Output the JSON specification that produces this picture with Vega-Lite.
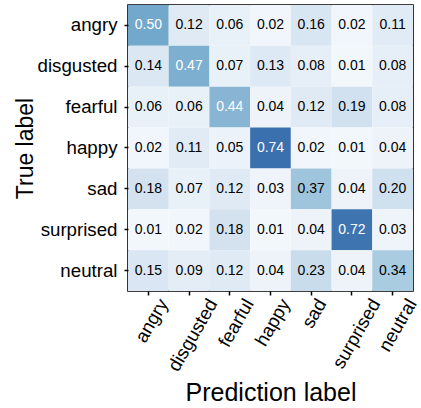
{
  "$schema": "https://vega.github.io/schema/vega-lite/v6.json",
  "autosize": "none",
  "padding": {"left": 128, "top": 5, "right": 8, "bottom": 117},
  "width": 285,
  "height": 286,
  "background": "white",
  "config": {
    "font": "Liberation Sans",
    "view": {"stroke": "black", "strokeWidth": 1.6},
    "axis": {
      "domain": false,
      "grid": false,
      "ticks": true,
      "tickColor": "black",
      "tickSize": 4,
      "tickWidth": 1.5,
      "labelColor": "black",
      "titleColor": "black",
      "labelFont": "Liberation Sans",
      "titleFont": "Liberation Sans",
      "labelFontSize": 18.7,
      "titleFontWeight": "normal"
    }
  },
  "data": {
    "values": [
      {"true": "angry", "pred": "angry", "v": 0.50},
      {"true": "angry", "pred": "disgusted", "v": 0.12},
      {"true": "angry", "pred": "fearful", "v": 0.06},
      {"true": "angry", "pred": "happy", "v": 0.02},
      {"true": "angry", "pred": "sad", "v": 0.16},
      {"true": "angry", "pred": "surprised", "v": 0.02},
      {"true": "angry", "pred": "neutral", "v": 0.11},
      {"true": "disgusted", "pred": "angry", "v": 0.14},
      {"true": "disgusted", "pred": "disgusted", "v": 0.47},
      {"true": "disgusted", "pred": "fearful", "v": 0.07},
      {"true": "disgusted", "pred": "happy", "v": 0.13},
      {"true": "disgusted", "pred": "sad", "v": 0.08},
      {"true": "disgusted", "pred": "surprised", "v": 0.01},
      {"true": "disgusted", "pred": "neutral", "v": 0.08},
      {"true": "fearful", "pred": "angry", "v": 0.06},
      {"true": "fearful", "pred": "disgusted", "v": 0.06},
      {"true": "fearful", "pred": "fearful", "v": 0.44},
      {"true": "fearful", "pred": "happy", "v": 0.04},
      {"true": "fearful", "pred": "sad", "v": 0.12},
      {"true": "fearful", "pred": "surprised", "v": 0.19},
      {"true": "fearful", "pred": "neutral", "v": 0.08},
      {"true": "happy", "pred": "angry", "v": 0.02},
      {"true": "happy", "pred": "disgusted", "v": 0.11},
      {"true": "happy", "pred": "fearful", "v": 0.05},
      {"true": "happy", "pred": "happy", "v": 0.74},
      {"true": "happy", "pred": "sad", "v": 0.02},
      {"true": "happy", "pred": "surprised", "v": 0.01},
      {"true": "happy", "pred": "neutral", "v": 0.04},
      {"true": "sad", "pred": "angry", "v": 0.18},
      {"true": "sad", "pred": "disgusted", "v": 0.07},
      {"true": "sad", "pred": "fearful", "v": 0.12},
      {"true": "sad", "pred": "happy", "v": 0.03},
      {"true": "sad", "pred": "sad", "v": 0.37},
      {"true": "sad", "pred": "surprised", "v": 0.04},
      {"true": "sad", "pred": "neutral", "v": 0.20},
      {"true": "surprised", "pred": "angry", "v": 0.01},
      {"true": "surprised", "pred": "disgusted", "v": 0.02},
      {"true": "surprised", "pred": "fearful", "v": 0.18},
      {"true": "surprised", "pred": "happy", "v": 0.01},
      {"true": "surprised", "pred": "sad", "v": 0.04},
      {"true": "surprised", "pred": "surprised", "v": 0.72},
      {"true": "surprised", "pred": "neutral", "v": 0.03},
      {"true": "neutral", "pred": "angry", "v": 0.15},
      {"true": "neutral", "pred": "disgusted", "v": 0.09},
      {"true": "neutral", "pred": "fearful", "v": 0.12},
      {"true": "neutral", "pred": "happy", "v": 0.04},
      {"true": "neutral", "pred": "sad", "v": 0.23},
      {"true": "neutral", "pred": "surprised", "v": 0.04},
      {"true": "neutral", "pred": "neutral", "v": 0.34}
    ]
  },
  "encoding": {
    "x": {
      "field": "pred",
      "type": "nominal",
      "sort": ["angry", "disgusted", "fearful", "happy", "sad", "surprised", "neutral"],
      "scale": {"paddingInner": 0, "paddingOuter": 0},
      "axis": {
        "title": "Prediction label",
        "titleFontSize": 25,
        "labelAngle": -60,
        "labelAlign": "right",
        "labelBaseline": "middle",
        "labelPadding": 5,
        "labelOffset": {"expr": "length(datum.value) * 2.2 + 4"},
        "titlePadding": 6
      }
    },
    "y": {
      "field": "true",
      "type": "nominal",
      "sort": ["angry", "disgusted", "fearful", "happy", "sad", "surprised", "neutral"],
      "scale": {"paddingInner": 0, "paddingOuter": 0},
      "axis": {
        "title": "True label",
        "titleFontSize": 23,
        "labelPadding": 7,
        "titlePadding": 0
      }
    }
  },
  "layer": [
    {
      "mark": {"type": "rect"},
      "encoding": {
        "color": {
          "field": "v",
          "type": "quantitative",
          "scale": {
            "domain": [0, 0.16, 0.23, 0.34, 0.5, 0.74],
            "range": ["#f4f8fc", "#d8e5f2", "#c8dcec", "#a9cce0", "#72a8cc", "#3a70ad"]
          },
          "legend": null
        }
      }
    },
    {
      "mark": {"type": "text", "fontSize": 14, "font": "Liberation Sans"},
      "encoding": {
        "text": {"field": "v", "type": "quantitative", "format": ".2f"},
        "color": {
          "condition": {"test": "datum.v > 0.4", "value": "white"},
          "value": "black"
        }
      }
    }
  ]
}
